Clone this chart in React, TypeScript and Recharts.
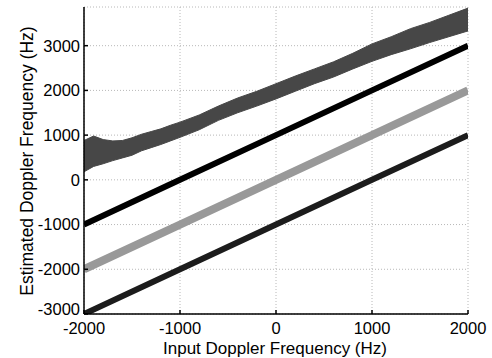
import { Area, CartesianGrid, ComposedChart, Line, XAxis, YAxis } from 'recharts';

// noisy top estimate, read as lower / upper edge of the band
const bandX = [-2000, -1900, -1800, -1700, -1600, -1500, -1400, -1300, -1200, -1100, -1000, -800, -600, -400, -200, 0, 200, 400, 600, 800, 1000, 1200, 1400, 1600, 1800, 2000];
const bandLow = [180, 300, 360, 430, 490, 550, 650, 720, 790, 870, 950, 1120, 1330, 1500, 1650, 1810, 1980, 2150, 2300, 2480, 2650, 2800, 2930, 3070, 3200, 3330];
const bandHigh = [880, 980, 900, 870, 880, 940, 1020, 1080, 1140, 1220, 1290, 1450, 1650, 1830, 1980, 2150, 2320, 2480, 2640, 2830, 3040, 3200, 3380, 3520, 3680, 3840];

const lineX = [-2000, -1000, 0, 1000, 2000];
const blackY = [-1000, 0, 1000, 2000, 3000];
const grayY = [-2000, -1000, 0, 1000, 2000];
const darkY = [-3000, -2000, -1000, 0, 1000];

const xTicks = [-2000, -1000, 0, 1000, 2000];
const yTicks = [-3000, -2000, -1000, 0, 1000, 2000, 3000];

const band = bandX.map((x, i) => ({ x, range: [bandLow[i], bandHigh[i]] }));
const toLine = (ys: number[]) => lineX.map((x, i) => ({ x, y: ys[i] }));

const font = 'Liberation Sans, Arial, sans-serif';
const tickStyle = { fontSize: 16.5, fill: '#000', fontFamily: font };
const axisLine = { stroke: '#000', strokeWidth: 1.5 };

// y tick labels; the lowest one sits a little higher so it clears the x labels
function YTick(props: any) {
  const { x, y, payload } = props;
  const shift = payload.value === yTicks[0] ? -5 : 0;
  return (
    <text x={x} y={y + shift} dy="0.355em" textAnchor="end" fontSize={16.5} fontFamily={font} fill="#000">
      {payload.value}
    </text>
  );
}

export default function App() {
  return (
    <div style={{ position: 'absolute', left: 0, top: 0, background: '#fff' }}>
      <ComposedChart width={492} height={358} margin={{ top: 7, right: 24, bottom: 0, left: 0 }}>
        <CartesianGrid stroke="#b8b8b8" strokeDasharray="1 2" />
        <XAxis
          dataKey="x"
          type="number"
          domain={[-2000, 2000]}
          ticks={xTicks}
          allowDataOverflow
          height={44}
          tick={tickStyle}
          tickSize={-4}
          tickMargin={12}
          axisLine={axisLine}
          tickLine={axisLine}
          label={() => (
            <text x={275} y={353.5} textAnchor="middle" fontSize={17} fontFamily={font} fill="#000">
              Input Doppler Frequency (Hz)
            </text>
          )}
        />
        <XAxis
          xAxisId="top"
          orientation="top"
          type="number"
          domain={[-2000, 2000]}
          ticks={xTicks}
          height={0}
          tick={false}
          tickSize={-4}
          axisLine={axisLine}
          tickLine={axisLine}
        />
        <YAxis
          type="number"
          domain={[-3000, 3865]}
          ticks={yTicks}
          allowDataOverflow
          width={84}
          tick={<YTick />}
          tickSize={-4}
          tickMargin={8}
          axisLine={axisLine}
          tickLine={axisLine}
          label={() => (
            <text
              x={33}
              y={161}
              transform="rotate(-90 33 161)"
              textAnchor="middle"
              fontSize={17.5}
              fontFamily={font}
              fill="#000"
            >
              Estimated Doppler Frequency (Hz)
            </text>
          )}
        />
        <YAxis
          yAxisId="right"
          orientation="right"
          type="number"
          domain={[-3000, 3865]}
          ticks={yTicks}
          width={0}
          tick={false}
          tickSize={-4}
          axisLine={axisLine}
          tickLine={axisLine}
        />
        <Area
          data={band}
          dataKey="range"
          type="linear"
          fill="#474747"
          fillOpacity={1}
          stroke="#474747"
          strokeWidth={1}
          isAnimationActive={false}
        />
        <Line data={toLine(blackY)} dataKey="y" type="linear" stroke="#000" strokeWidth={6} dot={false} isAnimationActive={false} />
        <Line data={toLine(grayY)} dataKey="y" type="linear" stroke="#999999" strokeWidth={8} dot={false} isAnimationActive={false} />
        <Line data={toLine(darkY)} dataKey="y" type="linear" stroke="#1c1c1c" strokeWidth={6} dot={false} isAnimationActive={false} />
      </ComposedChart>
    </div>
  );
}
